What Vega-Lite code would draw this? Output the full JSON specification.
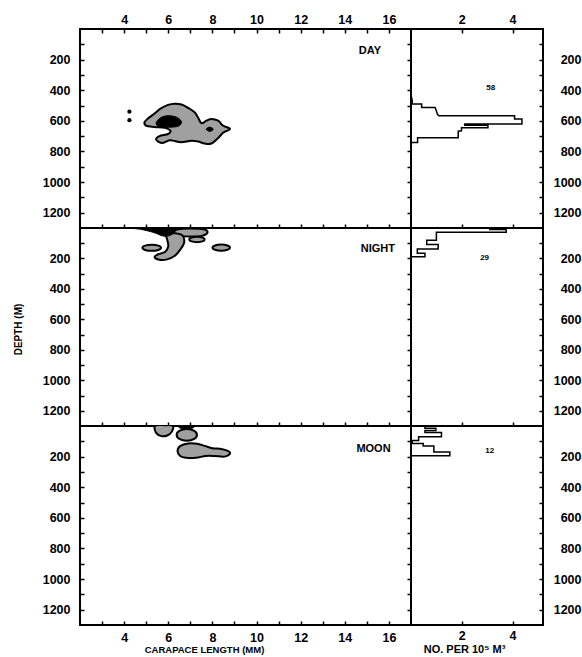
{
  "$schema": "https://vega.github.io/schema/vega-lite/v6.json",
  "background": "white",
  "padding": {"left": 12, "top": 12, "right": 1, "bottom": 2},
  "columns": 2,
  "spacing": 0,
  "bounds": "flush",
  "config": {
    "view": {"stroke": "black", "strokeWidth": 2},
    "axis": {"domain": false, "grid": false, "tickColor": "black", "tickWidth": 1.5, "labelFont": "Liberation Sans", "labelFontWeight": "bold", "labelFontSize": 12.5, "labelColor": "black", "labelOverlap": false, "labelFlush": false, "titleFont": "Liberation Sans", "titleFontWeight": "bold", "titleFontSize": 10, "titleColor": "#000000", "format": "d"}
  },
  "datasets": {
    "blobs": [
      {"p":"day","b":"d1","k":"s","i":1,"x":4.92,"d":611},{"p":"day","b":"d1","k":"s","i":2,"x":5.05,"d":588},{"p":"day","b":"d1","k":"s","i":3,"x":5.35,"d":555},{"p":"day","b":"d1","k":"s","i":4,"x":5.65,"d":520},{"p":"day","b":"d1","k":"s","i":5,"x":5.99,"d":496},{"p":"day","b":"d1","k":"s","i":6,"x":6.29,"d":488},{"p":"day","b":"d1","k":"s","i":7,"x":6.6,"d":493},{"p":"day","b":"d1","k":"s","i":8,"x":6.9,"d":515},{"p":"day","b":"d1","k":"s","i":9,"x":7.2,"d":545},{"p":"day","b":"d1","k":"s","i":10,"x":7.35,"d":578},{"p":"day","b":"d1","k":"s","i":11,"x":7.5,"d":615},{"p":"day","b":"d1","k":"s","i":12,"x":7.73,"d":599},{"p":"day","b":"d1","k":"s","i":13,"x":7.95,"d":588},{"p":"day","b":"d1","k":"s","i":14,"x":8.26,"d":599},{"p":"day","b":"d1","k":"s","i":15,"x":8.49,"d":632},{"p":"day","b":"d1","k":"s","i":16,"x":8.8,"d":652},{"p":"day","b":"d1","k":"s","i":17,"x":8.49,"d":677},{"p":"day","b":"d1","k":"s","i":18,"x":8.26,"d":712},{"p":"day","b":"d1","k":"s","i":19,"x":7.95,"d":748},{"p":"day","b":"d1","k":"s","i":20,"x":7.65,"d":748},{"p":"day","b":"d1","k":"s","i":21,"x":7.35,"d":735},{"p":"day","b":"d1","k":"s","i":22,"x":7.05,"d":730},{"p":"day","b":"d1","k":"s","i":23,"x":6.59,"d":740},{"p":"day","b":"d1","k":"s","i":24,"x":6.29,"d":732},{"p":"day","b":"d1","k":"s","i":25,"x":6.06,"d":727},{"p":"day","b":"d1","k":"s","i":26,"x":5.7,"d":745},{"p":"day","b":"d1","k":"s","i":27,"x":5.45,"d":722},{"p":"day","b":"d1","k":"s","i":28,"x":5.6,"d":700},{"p":"day","b":"d1","k":"s","i":29,"x":5.99,"d":686},{"p":"day","b":"d1","k":"s","i":30,"x":6.1,"d":665},{"p":"day","b":"d1","k":"s","i":31,"x":5.84,"d":646},{"p":"day","b":"d1","k":"s","i":32,"x":5.38,"d":640},{"p":"day","b":"d1","k":"s","i":33,"x":5.0,"d":632},
      {"p":"day","b":"d2","k":"b","i":1,"x":5.45,"d":615},{"p":"day","b":"d2","k":"b","i":2,"x":5.65,"d":580},{"p":"day","b":"d2","k":"b","i":3,"x":6.0,"d":566},{"p":"day","b":"d2","k":"b","i":4,"x":6.4,"d":578},{"p":"day","b":"d2","k":"b","i":5,"x":6.6,"d":608},{"p":"day","b":"d2","k":"b","i":6,"x":6.45,"d":635},{"p":"day","b":"d2","k":"b","i":7,"x":6.0,"d":642},{"p":"day","b":"d2","k":"b","i":8,"x":5.6,"d":640},
      {"p":"day","b":"d3","k":"b","i":1,"x":7.72,"d":655},{"p":"day","b":"d3","k":"b","i":2,"x":7.88,"d":641},{"p":"day","b":"d3","k":"b","i":3,"x":8.04,"d":655},{"p":"day","b":"d3","k":"b","i":4,"x":7.88,"d":669},
      {"p":"night","b":"n1","k":"s","i":1,"x":6.2,"d":25},{"p":"night","b":"n1","k":"s","i":2,"x":6.45,"d":8},{"p":"night","b":"n1","k":"s","i":3,"x":7.0,"d":4},{"p":"night","b":"n1","k":"s","i":4,"x":7.6,"d":8},{"p":"night","b":"n1","k":"s","i":5,"x":7.78,"d":28},{"p":"night","b":"n1","k":"s","i":6,"x":7.55,"d":50},{"p":"night","b":"n1","k":"s","i":7,"x":7.0,"d":56},{"p":"night","b":"n1","k":"s","i":8,"x":6.55,"d":50},
      {"p":"night","b":"n2","k":"s","i":1,"x":6.95,"d":75},{"p":"night","b":"n2","k":"s","i":2,"x":7.05,"d":62},{"p":"night","b":"n2","k":"s","i":3,"x":7.3,"d":57},{"p":"night","b":"n2","k":"s","i":4,"x":7.55,"d":62},{"p":"night","b":"n2","k":"s","i":5,"x":7.65,"d":75},{"p":"night","b":"n2","k":"s","i":6,"x":7.55,"d":88},{"p":"night","b":"n2","k":"s","i":7,"x":7.3,"d":93},{"p":"night","b":"n2","k":"s","i":8,"x":7.05,"d":88},
      {"p":"night","b":"n3","k":"s","i":1,"x":5.9,"d":40},{"p":"night","b":"n3","k":"s","i":2,"x":6.3,"d":35},{"p":"night","b":"n3","k":"s","i":3,"x":6.65,"d":50},{"p":"night","b":"n3","k":"s","i":4,"x":6.72,"d":95},{"p":"night","b":"n3","k":"s","i":5,"x":6.55,"d":140},{"p":"night","b":"n3","k":"s","i":6,"x":6.3,"d":182},{"p":"night","b":"n3","k":"s","i":7,"x":5.95,"d":206},{"p":"night","b":"n3","k":"s","i":8,"x":5.6,"d":208},{"p":"night","b":"n3","k":"s","i":9,"x":5.38,"d":190},{"p":"night","b":"n3","k":"s","i":10,"x":5.55,"d":172},{"p":"night","b":"n3","k":"s","i":11,"x":5.85,"d":158},{"p":"night","b":"n3","k":"s","i":12,"x":6.0,"d":120},{"p":"night","b":"n3","k":"s","i":13,"x":5.95,"d":75},
      {"p":"night","b":"n4","k":"s","i":1,"x":4.83,"d":130},{"p":"night","b":"n4","k":"s","i":2,"x":4.95,"d":116},{"p":"night","b":"n4","k":"s","i":3,"x":5.25,"d":110},{"p":"night","b":"n4","k":"s","i":4,"x":5.55,"d":116},{"p":"night","b":"n4","k":"s","i":5,"x":5.67,"d":130},{"p":"night","b":"n4","k":"s","i":6,"x":5.55,"d":144},{"p":"night","b":"n4","k":"s","i":7,"x":5.25,"d":150},{"p":"night","b":"n4","k":"s","i":8,"x":4.95,"d":144},
      {"p":"night","b":"n5","k":"s","i":1,"x":8.0,"d":129},{"p":"night","b":"n5","k":"s","i":2,"x":8.12,"d":115},{"p":"night","b":"n5","k":"s","i":3,"x":8.4,"d":109},{"p":"night","b":"n5","k":"s","i":4,"x":8.68,"d":115},{"p":"night","b":"n5","k":"s","i":5,"x":8.8,"d":129},{"p":"night","b":"n5","k":"s","i":6,"x":8.68,"d":143},{"p":"night","b":"n5","k":"s","i":7,"x":8.4,"d":149},{"p":"night","b":"n5","k":"s","i":8,"x":8.12,"d":143},
      {"p":"night","b":"n6","k":"b","i":1,"x":4.2,"d":-3},{"p":"night","b":"n6","k":"b","i":2,"x":5.3,"d":-8},{"p":"night","b":"n6","k":"b","i":3,"x":6.35,"d":-8},{"p":"night","b":"n6","k":"b","i":4,"x":6.3,"d":25},{"p":"night","b":"n6","k":"b","i":5,"x":6.05,"d":50},{"p":"night","b":"n6","k":"b","i":6,"x":5.75,"d":52},{"p":"night","b":"n6","k":"b","i":7,"x":5.35,"d":30},{"p":"night","b":"n6","k":"b","i":8,"x":4.8,"d":10},
      {"p":"moon","b":"m1","k":"s","i":1,"x":5.4,"d":-2},{"p":"moon","b":"m1","k":"s","i":2,"x":5.8,"d":-5},{"p":"moon","b":"m1","k":"s","i":3,"x":6.2,"d":-2},{"p":"moon","b":"m1","k":"s","i":4,"x":6.15,"d":40},{"p":"moon","b":"m1","k":"s","i":5,"x":5.95,"d":62},{"p":"moon","b":"m1","k":"s","i":6,"x":5.7,"d":66},{"p":"moon","b":"m1","k":"s","i":7,"x":5.45,"d":45},
      {"p":"moon","b":"m2","k":"s","i":1,"x":6.38,"d":58},{"p":"moon","b":"m2","k":"s","i":2,"x":6.5,"d":32},{"p":"moon","b":"m2","k":"s","i":3,"x":6.84,"d":20},{"p":"moon","b":"m2","k":"s","i":4,"x":7.18,"d":32},{"p":"moon","b":"m2","k":"s","i":5,"x":7.3,"d":58},{"p":"moon","b":"m2","k":"s","i":6,"x":7.18,"d":84},{"p":"moon","b":"m2","k":"s","i":7,"x":6.84,"d":96},{"p":"moon","b":"m2","k":"s","i":8,"x":6.5,"d":84},
      {"p":"moon","b":"m2b","k":"b","i":1,"x":6.45,"d":-3},{"p":"moon","b":"m2b","k":"b","i":2,"x":6.85,"d":-6},{"p":"moon","b":"m2b","k":"b","i":3,"x":7.2,"d":-3},{"p":"moon","b":"m2b","k":"b","i":4,"x":7.1,"d":14},{"p":"moon","b":"m2b","k":"b","i":5,"x":6.85,"d":20},{"p":"moon","b":"m2b","k":"b","i":6,"x":6.55,"d":14},
      {"p":"moon","b":"m3","k":"s","i":1,"x":6.42,"d":165},{"p":"moon","b":"m3","k":"s","i":2,"x":6.55,"d":130},{"p":"moon","b":"m3","k":"s","i":3,"x":6.9,"d":114},{"p":"moon","b":"m3","k":"s","i":4,"x":7.3,"d":116},{"p":"moon","b":"m3","k":"s","i":5,"x":7.65,"d":130},{"p":"moon","b":"m3","k":"s","i":6,"x":8.0,"d":145},{"p":"moon","b":"m3","k":"s","i":7,"x":8.4,"d":150},{"p":"moon","b":"m3","k":"s","i":8,"x":8.7,"d":163},{"p":"moon","b":"m3","k":"s","i":9,"x":8.8,"d":180},{"p":"moon","b":"m3","k":"s","i":10,"x":8.55,"d":200},{"p":"moon","b":"m3","k":"s","i":11,"x":8.1,"d":196},{"p":"moon","b":"m3","k":"s","i":12,"x":7.7,"d":196},{"p":"moon","b":"m3","k":"s","i":13,"x":7.25,"d":208},{"p":"moon","b":"m3","k":"s","i":14,"x":6.8,"d":208},{"p":"moon","b":"m3","k":"s","i":15,"x":6.55,"d":198}
    ],
    "hist": [
      {"p":"day","i":1,"v":0,"d":430},{"p":"day","i":2,"v":0.05,"d":470},{"p":"day","i":3,"v":0.05,"d":490},{"p":"day","i":4,"v":0.42,"d":490},{"p":"day","i":5,"v":0.42,"d":512},{"p":"day","i":6,"v":0.95,"d":512},{"p":"day","i":7,"v":1.05,"d":560},{"p":"day","i":8,"v":1.1,"d":566},{"p":"day","i":9,"v":4.08,"d":566},{"p":"day","i":10,"v":4.08,"d":588},{"p":"day","i":11,"v":4.37,"d":588},{"p":"day","i":12,"v":4.37,"d":620},{"p":"day","i":13,"v":2.12,"d":620},{"p":"day","i":14,"v":2.12,"d":628},{"p":"day","i":15,"v":3.03,"d":628},{"p":"day","i":16,"v":3.03,"d":645},{"p":"day","i":17,"v":1.99,"d":645},{"p":"day","i":18,"v":1.99,"d":665},{"p":"day","i":19,"v":1.86,"d":668},{"p":"day","i":20,"v":1.86,"d":710},{"p":"day","i":21,"v":0.26,"d":710},{"p":"day","i":22,"v":0.26,"d":742},{"p":"day","i":23,"v":0,"d":742},{"p":"day","i":24,"v":0,"d":800},
      {"p":"night","i":1,"v":3.1,"d":0},{"p":"night","i":2,"v":3.1,"d":10},{"p":"night","i":3,"v":3.75,"d":10},{"p":"night","i":4,"v":3.75,"d":28},{"p":"night","i":5,"v":1.0,"d":28},{"p":"night","i":6,"v":1.0,"d":80},{"p":"night","i":7,"v":0.62,"d":80},{"p":"night","i":8,"v":0.62,"d":108},{"p":"night","i":9,"v":1.07,"d":108},{"p":"night","i":10,"v":1.07,"d":138},{"p":"night","i":11,"v":0.25,"d":138},{"p":"night","i":12,"v":0.25,"d":165},{"p":"night","i":13,"v":0.55,"d":165},{"p":"night","i":14,"v":0.55,"d":189},{"p":"night","i":15,"v":0,"d":189},{"p":"night","i":16,"v":0,"d":230},
      {"p":"moon","i":1,"v":0.55,"d":0},{"p":"moon","i":2,"v":0.55,"d":14},{"p":"moon","i":3,"v":0.98,"d":14},{"p":"moon","i":4,"v":0.98,"d":30},{"p":"moon","i":5,"v":0.55,"d":30},{"p":"moon","i":6,"v":0.55,"d":42},{"p":"moon","i":7,"v":1.2,"d":42},{"p":"moon","i":8,"v":1.2,"d":70},{"p":"moon","i":9,"v":0.3,"d":70},{"p":"moon","i":10,"v":0.3,"d":95},{"p":"moon","i":11,"v":0.05,"d":95},{"p":"moon","i":12,"v":0.05,"d":115},{"p":"moon","i":13,"v":0.48,"d":115},{"p":"moon","i":14,"v":0.48,"d":130},{"p":"moon","i":15,"v":0.9,"d":130},{"p":"moon","i":16,"v":0.9,"d":170},{"p":"moon","i":17,"v":1.53,"d":170},{"p":"moon","i":18,"v":1.53,"d":195},{"p":"moon","i":19,"v":0,"d":195},{"p":"moon","i":20,"v":0,"d":230}
    ],
    "dots": [{"p":"day","x":4.24,"d":540},{"p":"day","x":4.24,"d":596}],
    "labels": [{"p":"day","x":15.14,"d":142,"t":"DAY"},{"p":"night","x":15.5,"d":139,"t":"NIGHT"},{"p":"moon","x":15.3,"d":147,"t":"MOON"}],
    "counts": [{"p":"day","v":3.14,"d":384,"t":"58"},{"p":"night","v":2.9,"d":195,"t":"29"},{"p":"moon","v":3.1,"d":162,"t":"12"}]
  },
  "concat": [
    {
      "width": 331, "height": 199,
      "layer": [
        {"data": {"name": "blobs"}, "transform": [{"filter": "datum.p === 'day' && datum.k === 's'"}],
         "mark": {"type": "line", "interpolate": "cardinal-closed", "fill": "#a0a0a0", "stroke": "black", "strokeWidth": 2, "clip": true},
         "encoding": {
           "x": {"field": "x", "type": "quantitative", "scale": {"domain": [2, 17], "nice": false, "zero": false}, "axis": {"orient": "top", "values": [3,4,5,6,7,8,9,10,11,12,13,14,15,16], "labelExpr": "datum.value % 2 === 0 ? datum.label : ''", "tickSize": -4, "labelPadding": 7, "title": null}},
           "y": {"field": "d", "type": "quantitative", "scale": {"domain": [0, 1300], "reverse": true, "nice": false, "zero": false}, "axis": {"orient": "left", "values": [100,200,300,400,500,600,700,800,900,1000,1100,1200], "labelExpr": "datum.value % 200 === 0 ? datum.label : ''", "tickSize": -4, "labelPadding": 14, "title": null}},
           "detail": {"field": "b", "type": "nominal"},
           "order": {"field": "i", "type": "quantitative"}
         }},
        {"data": {"name": "blobs"}, "transform": [{"filter": "datum.p === 'day' && datum.k === 'b'"}],
         "mark": {"type": "line", "interpolate": "cardinal-closed", "fill": "black", "stroke": "black", "strokeWidth": 1, "clip": true},
         "encoding": {
           "x": {"field": "x", "type": "quantitative", "axis": null},
           "y": {"field": "d", "type": "quantitative", "axis": null},
           "detail": {"field": "b", "type": "nominal"},
           "order": {"field": "i", "type": "quantitative"}
         }},
        {"data": {"name": "dots"},
         "mark": {"type": "point", "filled": true, "color": "black", "size": 18, "opacity": 1},
         "encoding": {
           "x": {"field": "x", "type": "quantitative", "axis": null},
           "y": {"field": "d", "type": "quantitative", "axis": null}
         }},
        {"data": {"name": "labels"}, "transform": [{"filter": "datum.p === 'day'"}],
         "mark": {"type": "text", "font": "Liberation Sans", "fontWeight": "bold", "fontSize": 11, "color": "black"},
         "encoding": {
           "x": {"field": "x", "type": "quantitative", "axis": {"orient": "bottom", "values": [3,4,5,6,7,8,9,10,11,12,13,14,15,16], "labels": false, "tickSize": -4, "title": null}},
           "y": {"field": "d", "type": "quantitative", "axis": {"orient": "right", "values": [100,200,300,400,500,600,700,800,900,1000,1100,1200], "labels": false, "tickSize": -4, "title": null}},
           "text": {"field": "t", "type": "nominal"}
         }}
      ],
      "resolve": {"axis": {"x": "independent", "y": "independent"}}
    },
    {
      "width": 132, "height": 199,
      "layer": [
        {"data": {"name": "hist"}, "transform": [{"filter": "datum.p === 'day'"}],
         "mark": {"type": "line", "stroke": "black", "strokeWidth": 1.5, "clip": true},
         "encoding": {
           "x": {"field": "v", "type": "quantitative", "scale": {"domain": [0, 5.2], "nice": false, "zero": false}, "axis": {"orient": "top", "values": [2, 4], "tickSize": -4, "labelPadding": 7, "title": null}},
           "y": {"field": "d", "type": "quantitative", "scale": {"domain": [0, 1300], "reverse": true, "nice": false, "zero": false}, "axis": {"orient": "right", "values": [100,200,300,400,500,600,700,800,900,1000,1100,1200], "labelExpr": "datum.value % 200 === 0 ? datum.label : ''", "tickSize": -4, "labelPadding": 42, "labelAlign": "right", "title": null}},
           "order": {"field": "i", "type": "quantitative"}
         }},
        {"data": {"name": "counts"}, "transform": [{"filter": "datum.p === 'day'"}],
         "mark": {"type": "text", "font": "Liberation Sans", "fontWeight": "bold", "fontSize": 8, "color": "black"},
         "encoding": {
           "x": {"field": "v", "type": "quantitative", "axis": {"orient": "bottom", "values": [2, 4], "labels": false, "tickSize": -4, "title": null}},
           "y": {"field": "d", "type": "quantitative", "axis": null},
           "text": {"field": "t", "type": "nominal"}
         }}
      ],
      "resolve": {"axis": {"x": "independent", "y": "independent"}}
    },
    {
      "width": 331, "height": 198,
      "layer": [
        {"data": {"name": "blobs"}, "transform": [{"filter": "datum.p === 'night' && datum.k === 's'"}],
         "mark": {"type": "line", "interpolate": "cardinal-closed", "fill": "#a0a0a0", "stroke": "black", "strokeWidth": 2, "clip": true},
         "encoding": {
           "x": {"field": "x", "type": "quantitative", "scale": {"domain": [2, 17], "nice": false, "zero": false}, "axis": null},
           "y": {"field": "d", "type": "quantitative", "scale": {"domain": [0, 1300], "reverse": true, "nice": false, "zero": false}, "axis": {"orient": "left", "values": [100,200,300,400,500,600,700,800,900,1000,1100,1200], "labelExpr": "datum.value % 200 === 0 ? datum.label : ''", "tickSize": -4, "labelPadding": 14, "title": "DEPTH (M)", "titleX": -57, "titleY": 101, "titleColor": "#000000", "titleFontSize": 10}},
           "detail": {"field": "b", "type": "nominal"},
           "order": {"field": "i", "type": "quantitative"}
         }},
        {"data": {"name": "blobs"}, "transform": [{"filter": "datum.p === 'night' && datum.k === 'b'"}],
         "mark": {"type": "line", "interpolate": "cardinal-closed", "fill": "black", "stroke": "black", "strokeWidth": 1, "clip": true},
         "encoding": {
           "x": {"field": "x", "type": "quantitative", "axis": null},
           "y": {"field": "d", "type": "quantitative", "axis": null},
           "detail": {"field": "b", "type": "nominal"},
           "order": {"field": "i", "type": "quantitative"}
         }},
        {"data": {"name": "labels"}, "transform": [{"filter": "datum.p === 'night'"}],
         "mark": {"type": "text", "font": "Liberation Sans", "fontWeight": "bold", "fontSize": 11, "color": "black"},
         "encoding": {
           "x": {"field": "x", "type": "quantitative", "axis": {"orient": "bottom", "values": [3,4,5,6,7,8,9,10,11,12,13,14,15,16], "labels": false, "tickSize": -4, "title": null}},
           "y": {"field": "d", "type": "quantitative", "axis": {"orient": "right", "values": [100,200,300,400,500,600,700,800,900,1000,1100,1200], "labels": false, "tickSize": -4, "title": null}},
           "text": {"field": "t", "type": "nominal"}
         }}
      ],
      "resolve": {"axis": {"x": "independent", "y": "independent"}}
    },
    {
      "width": 132, "height": 198,
      "layer": [
        {"data": {"name": "hist"}, "transform": [{"filter": "datum.p === 'night'"}],
         "mark": {"type": "line", "stroke": "black", "strokeWidth": 1.5, "clip": true},
         "encoding": {
           "x": {"field": "v", "type": "quantitative", "scale": {"domain": [0, 5.2], "nice": false, "zero": false}, "axis": null},
           "y": {"field": "d", "type": "quantitative", "scale": {"domain": [0, 1300], "reverse": true, "nice": false, "zero": false}, "axis": {"orient": "right", "values": [100,200,300,400,500,600,700,800,900,1000,1100,1200], "labelExpr": "datum.value % 200 === 0 ? datum.label : ''", "tickSize": -4, "labelPadding": 42, "labelAlign": "right", "title": null}},
           "order": {"field": "i", "type": "quantitative"}
         }},
        {"data": {"name": "counts"}, "transform": [{"filter": "datum.p === 'night'"}],
         "mark": {"type": "text", "font": "Liberation Sans", "fontWeight": "bold", "fontSize": 8, "color": "black"},
         "encoding": {
           "x": {"field": "v", "type": "quantitative", "axis": {"orient": "bottom", "values": [2, 4], "labels": false, "tickSize": -4, "title": null}},
           "y": {"field": "d", "type": "quantitative", "axis": null},
           "text": {"field": "t", "type": "nominal"}
         }}
      ],
      "resolve": {"axis": {"x": "independent", "y": "independent"}}
    },
    {
      "width": 331, "height": 199,
      "layer": [
        {"data": {"name": "blobs"}, "transform": [{"filter": "datum.p === 'moon' && datum.k === 's'"}],
         "mark": {"type": "line", "interpolate": "cardinal-closed", "fill": "#a0a0a0", "stroke": "black", "strokeWidth": 2, "clip": true},
         "encoding": {
           "x": {"field": "x", "type": "quantitative", "scale": {"domain": [2, 17], "nice": false, "zero": false}, "axis": null},
           "y": {"field": "d", "type": "quantitative", "scale": {"domain": [0, 1300], "reverse": true, "nice": false, "zero": false}, "axis": {"orient": "left", "values": [100,200,300,400,500,600,700,800,900,1000,1100,1200], "labelExpr": "datum.value % 200 === 0 ? datum.label : ''", "tickSize": -4, "labelPadding": 14, "title": null}},
           "detail": {"field": "b", "type": "nominal"},
           "order": {"field": "i", "type": "quantitative"}
         }},
        {"data": {"name": "blobs"}, "transform": [{"filter": "datum.p === 'moon' && datum.k === 'b'"}],
         "mark": {"type": "line", "interpolate": "cardinal-closed", "fill": "black", "stroke": "black", "strokeWidth": 1, "clip": true},
         "encoding": {
           "x": {"field": "x", "type": "quantitative", "axis": null},
           "y": {"field": "d", "type": "quantitative", "axis": null},
           "detail": {"field": "b", "type": "nominal"},
           "order": {"field": "i", "type": "quantitative"}
         }},
        {"data": {"name": "labels"}, "transform": [{"filter": "datum.p === 'moon'"}],
         "mark": {"type": "text", "font": "Liberation Sans", "fontWeight": "bold", "fontSize": 11, "color": "black"},
         "encoding": {
           "x": {"field": "x", "type": "quantitative", "axis": {"orient": "bottom", "values": [3,4,5,6,7,8,9,10,11,12,13,14,15,16], "labelExpr": "datum.value % 2 === 0 ? datum.label : ''", "tickSize": -4, "labelPadding": 10, "title": "CARAPACE LENGTH (MM)", "titleX": 124, "titleY": 19, "titleColor": "#000000", "titleFontSize": 9.5}},
           "y": {"field": "d", "type": "quantitative", "axis": {"orient": "right", "values": [100,200,300,400,500,600,700,800,900,1000,1100,1200], "labels": false, "tickSize": -4, "title": null}},
           "text": {"field": "t", "type": "nominal"}
         }}
      ],
      "resolve": {"axis": {"x": "independent", "y": "independent"}}
    },
    {
      "width": 132, "height": 199,
      "layer": [
        {"data": {"name": "hist"}, "transform": [{"filter": "datum.p === 'moon'"}],
         "mark": {"type": "line", "stroke": "black", "strokeWidth": 1.5, "clip": true},
         "encoding": {
           "x": {"field": "v", "type": "quantitative", "scale": {"domain": [0, 5.2], "nice": false, "zero": false}, "axis": null},
           "y": {"field": "d", "type": "quantitative", "scale": {"domain": [0, 1300], "reverse": true, "nice": false, "zero": false}, "axis": {"orient": "right", "values": [100,200,300,400,500,600,700,800,900,1000,1100,1200], "labelExpr": "datum.value % 200 === 0 ? datum.label : ''", "tickSize": -4, "labelPadding": 42, "labelAlign": "right", "title": null}},
           "order": {"field": "i", "type": "quantitative"}
         }},
        {"data": {"name": "counts"}, "transform": [{"filter": "datum.p === 'moon'"}],
         "mark": {"type": "text", "font": "Liberation Sans", "fontWeight": "bold", "fontSize": 8, "color": "black"},
         "encoding": {
           "x": {"field": "v", "type": "quantitative", "axis": {"orient": "bottom", "values": [2, 4], "tickSize": -4, "labelPadding": 8, "title": "NO. PER 10⁵ M³", "titleX": 53, "titleY": 18, "titleColor": "#000000", "titleFontSize": 11}},
           "y": {"field": "d", "type": "quantitative", "axis": null},
           "text": {"field": "t", "type": "nominal"}
         }}
      ],
      "resolve": {"axis": {"x": "independent", "y": "independent"}}
    }
  ]
}
